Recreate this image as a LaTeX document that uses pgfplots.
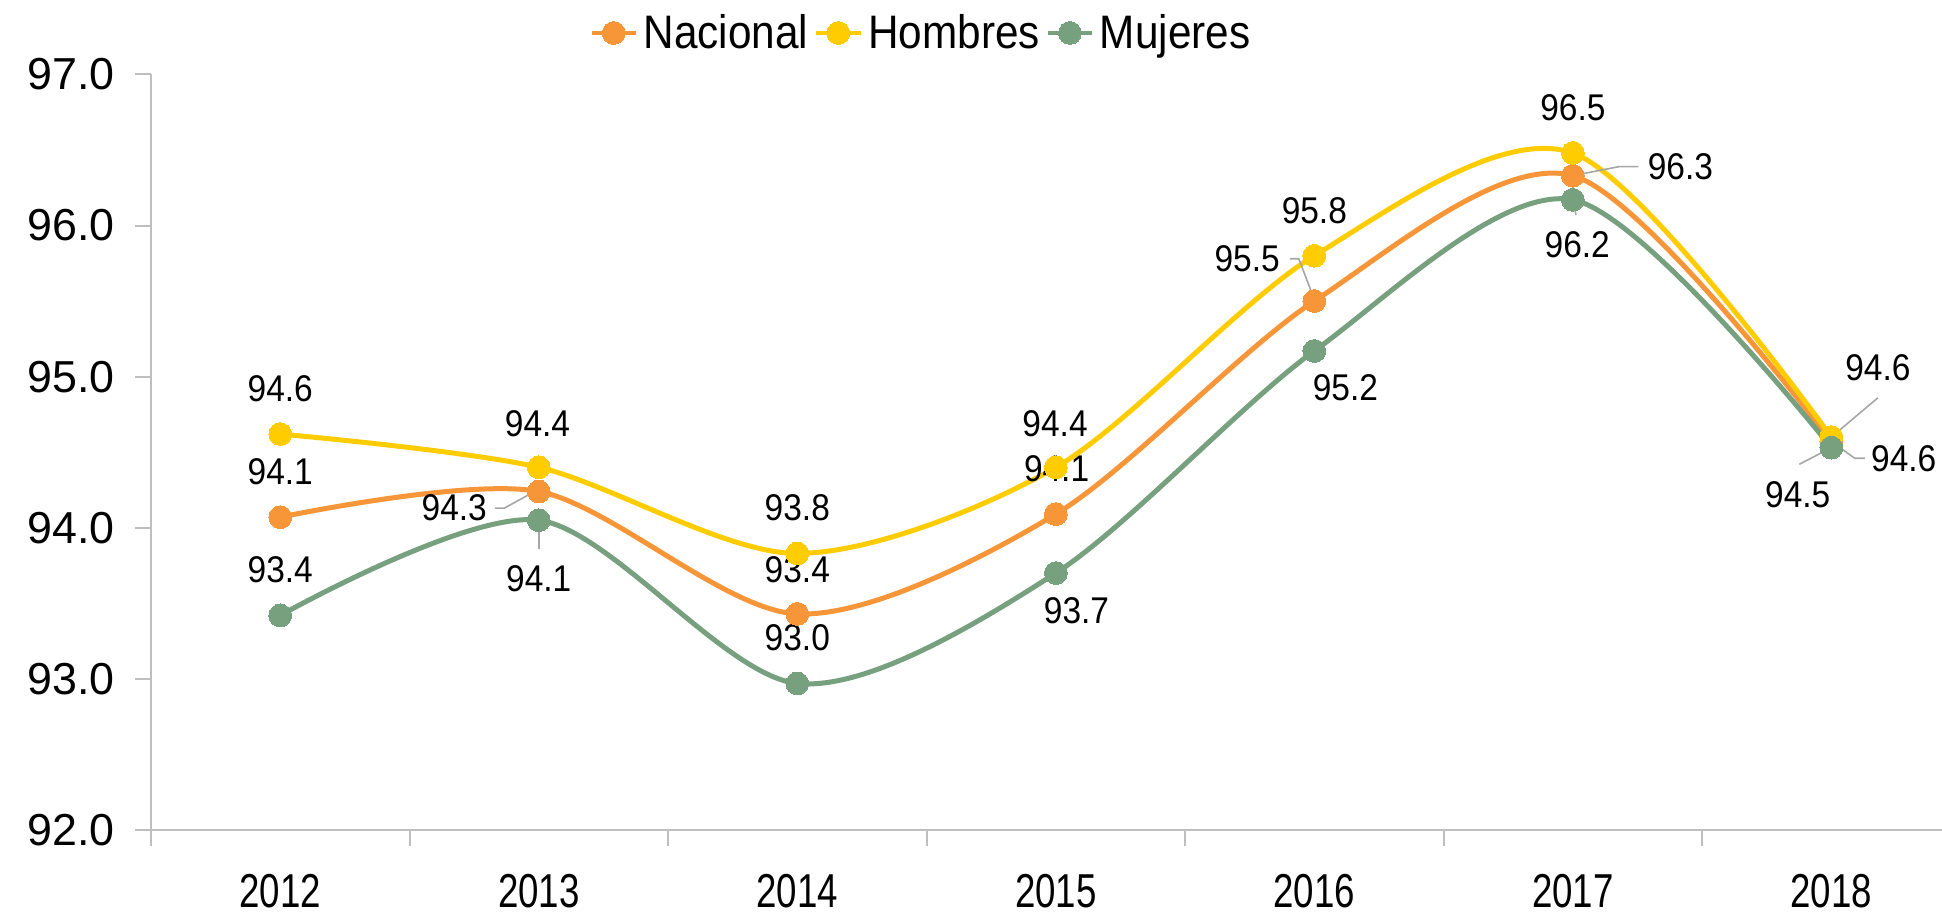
\documentclass[border=0pt]{standalone}
\usepackage{fontspec}
\setmainfont{Liberation Sans}
\newfontfamily\lblfont[FakeStretch=0.9]{Liberation Sans}
\newfontfamily\yrfont[FakeStretch=0.77]{Liberation Sans}
\newfontfamily\legfont[FakeStretch=0.9]{Liberation Sans}
\usepackage{pgfplots}
\pgfplotsset{compat=1.18}
\definecolor{cNac}{RGB}{247,150,56}
\definecolor{cHom}{RGB}{255,204,0}
\definecolor{cMuj}{RGB}{118,160,126}
\definecolor{cAx}{RGB}{191,191,191}
\definecolor{cLead}{RGB}{166,166,166}
\newcommand\lblsize{\lblfont\fontsize{18.6pt}{20pt}\selectfont}
\begin{document}
\begin{tikzpicture}
\useasboundingbox (-75.5pt,-44.1pt) rectangle (895.5pt,415pt);
\begin{axis}[
  at={(0pt,0pt)}, anchor=south west,
  scale only axis, width=895.5pt, height=377.8pt,
  xmin=-0.5, xmax=6.428, ymin=92, ymax=97,
  axis x line=bottom, axis y line=left,
  axis line style={-, draw=cAx, line width=1pt},
  xtick={0,1,2,3,4,5,6},
  xticklabels={2012,2013,2014,2015,2016,2017,2018},
  minor xtick={-0.5,0.5,1.5,2.5,3.5,4.5,5.5},
  ytick={92,93,94,95,96,97},
  tick align=outside,
  major tick length=8pt, minor tick length=8pt,
  major x tick style={draw=none},
  minor x tick style={draw=cAx, line width=1pt},
  major y tick style={draw=cAx, line width=1pt},
  /pgf/number format/fixed, /pgf/number format/fixed zerofill,
  /pgf/number format/precision=1, /pgf/number format/assume math mode=true,
  yticklabel style={font=\fontsize{22.4pt}{24pt}\selectfont, inner sep=0pt, xshift=-10pt},
  xticklabel style={font=\yrfont\fontsize{23.8pt}{26pt}\selectfont, anchor=center, inner sep=0pt, yshift=-22.5pt},
  clip=false,
  legend columns=3,
  legend style={at={(0.4294,1.0548)}, anchor=center, draw=none, fill=none,
    font=\legfont\fontsize{23.5pt}{26pt}\selectfont,
    nodes={inner sep=0pt},
    /tikz/every odd column/.append style={column sep=3pt},
    /tikz/every even column/.append style={column sep=3pt}},
  legend cell align=left,
  legend image code/.code={\draw[mark repeat=2,mark phase=2,#1,line width=2pt] plot coordinates {(0pt,0pt) (11pt,0pt) (22pt,0pt)};},
  every axis plot/.append style={line width=2.5pt, smooth, mark=*, mark size=5.7pt},
]
\addplot[color=cNac, mark options={fill=cNac, draw=cNac, line width=0pt}] coordinates {
  (0,94.07) (1,94.24) (2,93.43) (3,94.09) (4,95.50) (5,96.33) (6,94.57)};
\addlegendentry{Nacional}
\addplot[color=cHom, mark options={fill=cHom, draw=cHom, line width=0pt}] coordinates {
  (0,94.62) (1,94.40) (2,93.83) (3,94.40) (4,95.80) (5,96.48) (6,94.60)};
\addlegendentry{Hombres}
\addplot[color=cMuj, mark options={fill=cMuj, draw=cMuj, line width=0pt}] coordinates {
  (0,93.42) (1,94.05) (2,92.97) (3,93.70) (4,95.17) (5,96.17) (6,94.53)};
\addlegendentry{Mujeres}
% leader lines
\draw[cLead, line width=0.8pt] (axis cs:6.18,94.86) -- (axis cs:6.0,94.6);
\draw[cLead, line width=0.8pt] (axis cs:0.83,94.13) -- (axis cs:0.867,94.13) -- (axis cs:0.995,94.25);
\draw[cLead, line width=0.8pt] (axis cs:3.905,95.78) -- (axis cs:3.94,95.78) -- (axis cs:4.0,95.51);
\draw[cLead, line width=0.8pt] (axis cs:5.253,96.39) -- (axis cs:5.18,96.39) -- (axis cs:5.0,96.33);
\draw[cLead, line width=0.8pt] (axis cs:6.13,94.46) -- (axis cs:6.09,94.46) -- (axis cs:6.0,94.57);
\draw[cLead, line width=0.8pt] (axis cs:1.0,94.04) -- (axis cs:1.0,93.86);
\draw[cLead, line width=0.8pt] (axis cs:5.0,96.17) -- (axis cs:5.012,96.07);
\draw[cLead, line width=0.8pt] (axis cs:5.876,94.42) -- (axis cs:6.0,94.53);
% labels Hombres
\node[font=\lblsize] at (axis cs:0,94.92) {94.6};
\node[font=\lblsize] at (axis cs:0.995,94.69) {94.4};
\node[font=\lblsize] at (axis cs:2.0,94.13) {93.8};
\node[font=\lblsize] at (axis cs:2.997,94.69) {94.4};
\node[font=\lblsize] at (axis cs:4.0,96.10) {95.8};
\node[font=\lblsize] at (axis cs:5.0,96.78) {96.5};
\node[font=\lblsize] at (axis cs:6.18,95.06) {94.6};
% labels Nacional
\node[font=\lblsize] at (axis cs:0,94.37) {94.1};
\node[font=\lblsize] at (axis cs:0.673,94.13) {94.3};
\node[font=\lblsize] at (axis cs:2.0,93.72) {93.4};
\node[font=\lblsize] at (axis cs:3.003,94.39) {94.1};
\node[font=\lblsize] at (axis cs:3.74,95.78) {95.5};
\node[font=\lblsize] at (axis cs:5.416,96.39) {96.3};
\node[font=\lblsize] at (axis cs:6.28,94.46) {94.6};
% labels Mujeres
\node[font=\lblsize] at (axis cs:0,93.72) {93.4};
\node[font=\lblsize] at (axis cs:1.0,93.66) {94.1};
\node[font=\lblsize] at (axis cs:2.0,93.27) {93.0};
\node[font=\lblsize] at (axis cs:3.08,93.45) {93.7};
\node[font=\lblsize] at (axis cs:4.12,94.93) {95.2};
\node[font=\lblsize] at (axis cs:5.017,95.87) {96.2};
\node[font=\lblsize] at (axis cs:5.87,94.22) {94.5};
\end{axis}
\end{tikzpicture}
\end{document}
